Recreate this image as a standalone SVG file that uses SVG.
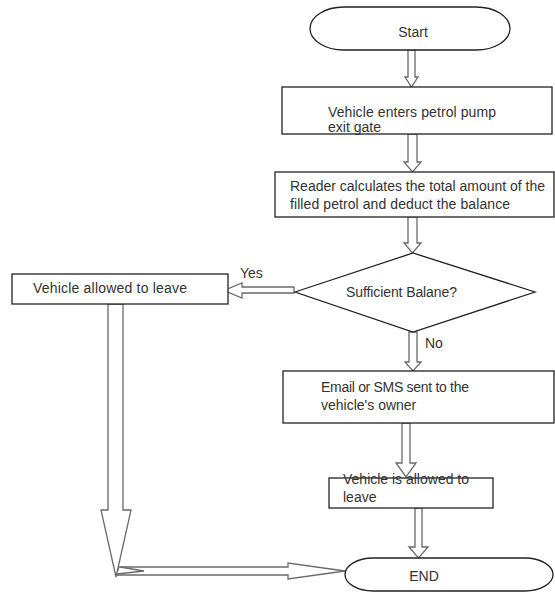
<svg xmlns="http://www.w3.org/2000/svg" width="555" height="592" viewBox="0 0 555 592">
<style>
.box{fill:#fff;stroke:#222;stroke-width:1.3}
.arr{fill:#fff;stroke:#6a6a6a;stroke-width:1.3;stroke-linejoin:miter}
.t{font-family:"Liberation Sans",Arial,sans-serif;font-size:14px;fill:#333}
.c{text-anchor:middle}
</style>
<rect width="555" height="592" fill="#fff"/>
<g id="connectors">
<polygon class="arr" points="408,50 415,50 415,77 418,77 411.5,87 405,77 408,77"/>
<polygon class="arr" points="408,134 417,134 417,162 421,162 412.5,172 404,162 408,162"/>
<polygon class="arr" points="408,217 417,217 417,243 421,243 412.5,253 404,243 408,243"/>
<polygon class="arr" points="409,332 417,332 417,362 421,362 413,371 405,362 409,362"/>
<polygon class="arr" points="402,423 410,423 410,463 416,463 406,477 396,463 402,463"/>
<polygon class="arr" points="415,508 422,508 422,547 428,547 418.5,558 409,547 415,547"/>
<polygon class="arr" points="294,287 242,287 242,283 224,290.5 242,298 242,293 294,293"/>
<polygon class="arr" points="108,304 123,304 123,510 131,510 116,577 101,510 108,510"/>
<polygon class="arr" points="119,567 288,567 288,563 345,571 288,579 288,575 117,575"/>
<polyline class="arr" points="120,567 144,571 117,574" fill="none"/>
<text class="t" x="240" y="278">Yes</text>
<text class="t" x="425" y="348">No</text>
</g>
<g id="start">
<rect class="box" x="310" y="7" width="200" height="43" rx="34" ry="21.5"/>
<text class="t c" x="413" y="37">Start</text>
</g>
<g id="enter">
<rect class="box" x="282" y="87" width="270" height="47"/>
<text class="t" x="328" y="117" textLength="168">Vehicle enters petrol pump</text>
<text class="t" x="328" y="132">exit gate</text>
</g>
<g id="reader">
<rect class="box" x="275" y="172" width="279" height="45"/>
<text class="t" x="290" y="191" textLength="255">Reader calculates the total amount of the</text>
<text class="t" x="290" y="209" textLength="220">filled petrol and deduct the balance</text>
</g>
<g id="decision">
<polygon class="box" points="295,292 413,253 535,292 413,332"/>
<text class="t" x="346" y="297" textLength="111">Sufficient Balane?</text>
</g>
<g id="allowed">
<rect class="box" x="12" y="274" width="216" height="30"/>
<text class="t" x="33" y="293" textLength="154">Vehicle allowed to leave</text>
</g>
<g id="email">
<rect class="box" x="283" y="371" width="271" height="52"/>
<text class="t" x="321" y="392" textLength="148">Email or SMS sent to the</text>
<text class="t" x="321" y="410">vehicle's owner</text>
</g>
<g id="allowed2">
<rect class="box" x="329" y="478" width="164" height="30"/>
<text class="t" x="343" y="484" textLength="126">Vehicle is allowed to</text>
<text class="t" x="343" y="502">leave</text>
</g>
<g id="end">
<rect class="box" x="345" y="558" width="208" height="33" rx="28" ry="16.5"/>
<text class="t c" x="424" y="581">END</text>
</g>
</svg>
